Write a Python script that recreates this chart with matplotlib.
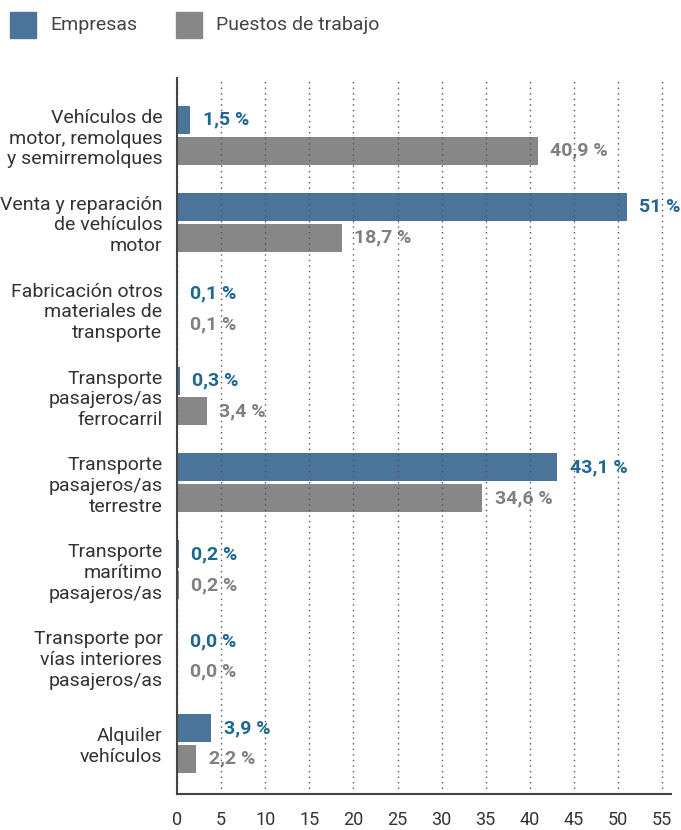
import numpy as np
import matplotlib
matplotlib.use('Agg')
import matplotlib.pyplot as plt
from matplotlib.patches import Rectangle

plt.rcParams['font.family'] = ['Roboto', 'DejaVu Sans']

categories = ['Vehículos de\nmotor, remolques\ny semirremolques',
              'Venta y reparación\nde vehículos\nmotor',
              'Fabricación otros\nmateriales de\ntransporte',
              'Transporte\npasajeros/as\nferrocarril',
              'Transporte\npasajeros/as\nterrestre',
              'Transporte\nmarítimo\npasajeros/as',
              'Transporte por\nvías interiores\npasajeros/as',
              'Alquiler\nvehículos']
empresas = [1.5, 51, 0.1, 0.3, 43.1, 0.2, 0.0, 3.9]
puestos = [40.9, 18.7, 0.1, 3.4, 34.6, 0.2, 0.0, 2.2]
empresas_txt = ['1,5 %', '51 %', '0,1 %', '0,3 %', '43,1 %', '0,2 %', '0,0 %', '3,9 %']
puestos_txt = ['40,9 %', '18,7 %', '0,1 %', '3,4 %', '34,6 %', '0,2 %', '0,0 %', '2,2 %']
xticks = np.arange(0, 60, 5)

blue = '#4a7499'
grey = '#878787'
blue_txt = '#1d6792'
grey_txt = '#808080'
axis_col = '#444444'

fig = plt.figure(figsize=(6.81, 8.30), dpi=100)
ax = fig.add_axes([177 / 681, 36 / 830, 494 / 681, 715.7 / 830])

y = np.arange(len(categories))
h = 0.322
off = 0.177
ax.barh(y - off, empresas, height=h, color=blue, zorder=2)
ax.barh(y + off, puestos, height=h, color=grey, zorder=2)

for i in range(len(categories)):
    ax.annotate(empresas_txt[i], (empresas[i], y[i] - off), xytext=(9, 0),
                textcoords='offset points', va='center', ha='left',
                fontsize=14, fontweight='bold', color=blue_txt, zorder=1)
    ax.annotate(puestos_txt[i], (puestos[i], y[i] + off), xytext=(9, 0),
                textcoords='offset points', va='center', ha='left',
                fontsize=14, fontweight='bold', color=grey_txt, zorder=1)

ax.set_ylim(len(categories) - 1 + 0.582, -0.656)
ax.set_xlim(0, 56)
ax.set_yticks(y)
ax.set_yticklabels(categories, fontsize=14, color='#333333', linespacing=1.19)
ax.set_xticks(xticks)
ax.set_xticklabels([str(t) for t in xticks], fontsize=13, color='#333333')
ax.tick_params(axis='both', length=0)
ax.tick_params(axis='x', pad=12)
ax.tick_params(axis='y', pad=10.5)

ax.grid(axis='x', linestyle=(0, (1, 3)), color='#555555', linewidth=1, zorder=3)
ax.set_axisbelow(False)
for s in ['top', 'right']:
    ax.spines[s].set_visible(False)
for s in ['left', 'bottom']:
    ax.spines[s].set_color(axis_col)
    ax.spines[s].set_linewidth(1.5)
    ax.spines[s].set_zorder(4)

# legend at top
fig.patches.append(Rectangle((10 / 681, 1 - 38 / 830), 26 / 681, 26 / 830,
                             transform=fig.transFigure, color=blue))
fig.text(50 / 681, 1 - 25 / 830, 'Empresas', fontsize=14, color='#444444', va='center')
fig.patches.append(Rectangle((176 / 681, 1 - 38 / 830), 26 / 681, 26 / 830,
                             transform=fig.transFigure, color=grey))
fig.text(216 / 681, 1 - 25 / 830, 'Puestos de trabajo', fontsize=14, color='#444444', va='center')

fig.savefig('out.png', dpi=100)
